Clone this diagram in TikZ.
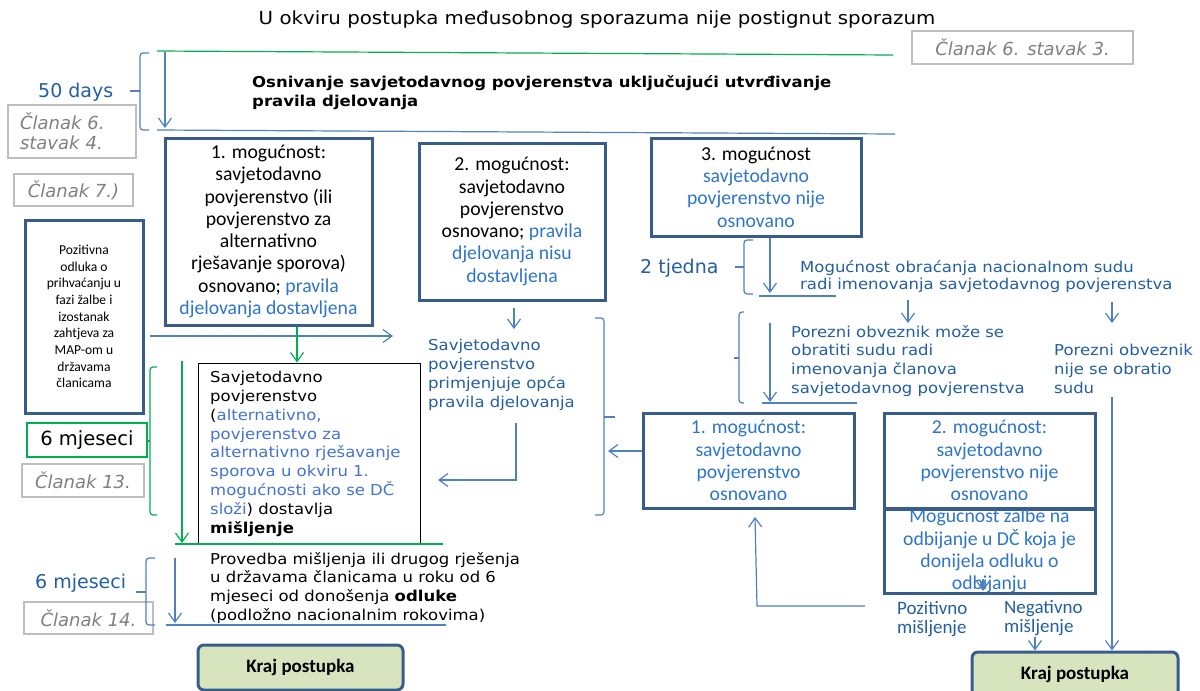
\documentclass[tikz,border=0pt]{standalone}
\usepackage{fontspec}
\setmainfont{DejaVu Sans}
\newfontfamily\verd{DejaVu Sans}[FakeStretch=1.1]
\newfontfamily\calibri{Carlito}
\usetikzlibrary{arrows.meta}

\definecolor{dkblue}{RGB}{35,95,160}
\definecolor{cblue}{RGB}{46,117,200}
\definecolor{mblue}{RGB}{68,114,210}
\definecolor{lnblue}{RGB}{79,129,189}
\definecolor{boxblue}{RGB}{56,93,138}
\definecolor{tlgreen}{RGB}{0,176,80}
\definecolor{refgray}{RGB}{128,128,128}
\definecolor{refline}{RGB}{190,190,190}
\definecolor{krajfill}{RGB}{215,228,189}

\newcommand{\setfs}[2]{\fontsize{#1}{#2}\selectfont}

\begin{document}
\begin{tikzpicture}[x=1pt,y=-1pt,
  thickbox/.style={draw=boxblue, line width=3pt, inner sep=0pt, align=center,
    font=\calibri\setfs{19.7}{22.3}},
  refbox/.style={draw=refline, line width=1.2pt, inner sep=0pt, text=refgray,
    font=\itshape\setfs{18}{20}},
  krajbox/.style={draw=boxblue, line width=3pt, fill=krajfill, rounded corners=6pt,
    inner sep=0pt, font=\calibri\bfseries\setfs{19}{21}},
  vtext/.style={inner sep=0pt, align=left, text=dkblue, font=\verd\setfs{15}{19}},
  conn/.style={draw=lnblue, line width=1.2pt},
  arr/.style={conn, -{Straight Barb[length=9pt,width=13pt]}},
  gconn/.style={draw=tlgreen, line width=1.2pt},
  garr/.style={gconn, -{Straight Barb[length=9pt,width=13pt]}},
  brc/.style={conn, rounded corners=3pt},
  gbrc/.style={gconn, rounded corners=3pt}]
\useasboundingbox (0,0) rectangle (1200,691);

% ---------- heading and top time band ----------
\node[anchor=base, inner sep=0pt, font=\verd\setfs{18}{22}] (title) at (597,24)
  {U okviru postupka međusobnog sporazuma nije postignut sporazum};
\node[refbox, minimum width=221, minimum height=33] (cl63) at (1022.5,47.5) {Članak 6. stavak 3.};

\draw[gconn] (157,51) -- (893,55);
\draw[conn] (157,130) -- (895,134);

\node[anchor=north west, inner sep=0pt, align=left, font=\verd\bfseries\setfs{15}{19.5}] (osn) at (252,75)
  {Osnivanje savjetodavnog povjerenstva uključujući utvrđivanje\\pravila djelovanja};

\node[anchor=base west, inner sep=0pt, text=dkblue, font=\setfs{19}{22}] (days) at (38,97) {50 days};
\draw[brc] (149,53) -- (140,53) -- (140,130) -- (149,130);
\draw[brc] (140,91) -- (130,91);
\draw[arr] (165,52) -- (165,128);

\node[refbox, minimum width=128, minimum height=53, align=left, text width=104] (cl64) at (72,131.5)
  {Članak 6.\\stavak 4.};
\node[refbox, minimum width=119, minimum height=32] (cl7) at (73.5,190) {Članak 7.)};

% ---------- three options ----------
\node[thickbox, minimum width=207, minimum height=187] (opt1) at (268.5,231.5)
  {1. mogućnost:\\savjetodavno\\povjerenstvo (ili\\povjerenstvo za\\alternativno\\rješavanje sporova)\\
   osnovano; \textcolor{cblue}{pravila}\\\textcolor{cblue}{djelovanja dostavljena}};
\node[thickbox, minimum width=186, minimum height=157] (opt2) at (512,221.5)
  {2. mogućnost:\\savjetodavno\\povjerenstvo\\osnovano; \textcolor{cblue}{pravila}\\
   \textcolor{cblue}{djelovanja nisu}\\\textcolor{cblue}{dostavljena}};
\node[thickbox, minimum width=210, minimum height=98] (opt3) at (756,187)
  {3. mogućnost\\\textcolor{cblue}{savjetodavno}\\\textcolor{cblue}{povjerenstvo nije}\\\textcolor{cblue}{osnovano}};

\node[thickbox, minimum width=118, minimum height=193, font=\calibri\setfs{13.6}{16.7}] (poz) at (84,316.5)
  {Pozitivna\\odluka o\\prihvaćanju u\\fazi žalbe i\\izostanak\\zahtjeva za\\MAP-om u\\državama\\članicama};
\coordinate (pozend) at (393,336);
\draw[arr] (poz.east |- pozend) ++(5,0) -- (pozend);

% ---------- option 1: opinion of the committee ----------
\node[draw=black, line width=1pt, minimum width=222, minimum height=181, inner sep=0pt] (savbox) at (309,453.5) {};
\node[anchor=north west, inner sep=0pt, align=left, font=\verd\setfs{15}{18.8}] (savtxt) at (210,371)
  {Savjetodavno\\povjerenstvo\\(\textcolor{mblue}{alternativno,}\\\textcolor{mblue}{povjerenstvo za}\\
   \textcolor{mblue}{alternativno rješavanje}\\\textcolor{mblue}{sporova u okviru 1.}\\
   \textcolor{mblue}{mogućnosti ako se DČ}\\\textcolor{mblue}{složi}) dostavlja\\\textbf{mišljenje}};
\coordinate (g1) at (297,0);
\draw[garr] (opt1.south -| g1) -- (savbox.north -| g1);

\node[draw=tlgreen, line width=1.2pt, minimum width=120, minimum height=34, inner sep=0pt,
  font=\setfs{19.5}{21}] (six1) at (87,440) {6 mjeseci};
\node[refbox, minimum width=122, minimum height=33] (cl13) at (83,480.5) {Članak 13.};
\draw[gbrc] (157,367) -- (150,367) -- (150,515) -- (157,515);
\draw[gconn] (150,441) -- (six1.east |- 0,441);
\draw[garr] (182,361) -- (182,543);
\draw[gconn] (175,544) -- (443,544);

% ---------- implementation ----------
\node[anchor=north west, inner sep=0pt, align=left, font=\verd\setfs{15}{18.7}] (provedba) at (210,552)
  {Provedba mišljenja ili drugog rješenja\\u državama članicama u roku od 6\\
   mjeseci od donošenja \textbf{odluke}\\(podložno nacionalnim rokovima)};
\node[anchor=base west, inner sep=0pt, text=dkblue, font=\setfs{19}{22}] (six2) at (35,588) {6 mjeseci};
\node[refbox, minimum width=129, minimum height=32] (cl14) at (88.5,618) {Članak 14.};
\draw[brc] (155,558) -- (146,558) -- (146,625) -- (155,625);
\draw[brc] (146,592) -- (136,592);
\draw[arr] (175,558) -- (175,623);
\draw[conn] (166,625) -- (446,625);

\node[krajbox, minimum width=205, minimum height=45] (kraj1) at (300.5,667.5) {Kraj postupka};

% ---------- option 2: general rules ----------
\node[vtext, anchor=north west] (prim) at (428,339)
  {Savjetodavno\\povjerenstvo\\primjenjuje opća\\pravila djelovanja};
\draw[arr] (opt2.south |- 0,308) ++(2,0) -- ++(0,21);
\coordinate (elbow) at (438,480);
\draw[arr] (516,423) -- (516,480) -- (elbow);
\draw[brc] (595,318) -- (604,318) -- (604,515) -- (595,515);
\draw[brc] (604,417) -- (615,417);

% ---------- option 3: national court ----------
\node[anchor=base west, inner sep=0pt, text=dkblue, font=\setfs{19}{22}] (tjedna) at (640,273) {2 tjedna};
\draw[brc] (753,240) -- (744,240) -- (744,294) -- (753,294);
\draw[brc] (744,267) -- (735,267);
\draw[arr] (770,238) -- (770,293);
\draw[conn] (759,296) -- (836,296);
\node[vtext, anchor=north west, font=\verd\setfs{15}{17.5}] (mog) at (800,260)
  {Mogućnost obraćanja nacionalnom sudu\\radi imenovanja savjetodavnog povjerenstva};
\draw[arr] (908,300) -- (908,323);
\draw[arr] (1112,302) -- (1112,323);

\draw[brc] (744,312) -- (739,312) -- (739,403) -- (744,403);
\draw[brc] (739,358) -- (734,358);
\draw[arr] (770,323) -- (770,402);
\draw[conn] (762,403) -- (857,403);
\node[vtext, anchor=north west, font=\verd\setfs{15}{18.7}] (por1) at (791,325)
  {Porezni obveznik može se\\obratiti sudu radi\\imenovanja članova\\savjetodavnog povjerenstva};
\node[vtext, anchor=north west, font=\verd\setfs{15}{18.7}] (por2) at (1054,344)
  {Porezni obveznik\\nije se obratio\\sudu};

\node[thickbox, minimum width=211, minimum height=84, text=cblue] (b3) at (989.5,551)
  {Mogućnost žalbe na\\odbijanje u DČ koja je\\donijela odluku o\\odbijanju};
\node[thickbox, minimum width=211, minimum height=95, text=cblue] (b1) at (748.5,460.5)
  {1. mogućnost:\\savjetodavno\\povjerenstvo\\osnovano};
\node[thickbox, minimum width=211, minimum height=95, text=cblue] (b2) at (989.5,460.5)
  {2. mogućnost:\\savjetodavno\\povjerenstvo nije\\osnovano};
\draw[arr] ([yshift=9.5pt]b1.west) -- (608,451);
\draw[arr] (983,579) -- (983,591);

\node[anchor=north west, inner sep=0pt, align=left, text=dkblue, font=\calibri\setfs{19}{19}] (pozm) at (897,601)
  {Pozitivno\\mišljenje};
\node[anchor=north west, inner sep=0pt, align=left, text=dkblue, font=\calibri\setfs{19}{19}] (negm) at (1004,600)
  {Negativno\\mišljenje};
\coordinate (upend) at (755,517);
\draw[arr] (865,606) -- (757,606) -- (upend);

\node[krajbox, minimum width=206, minimum height=45] (kraj2) at (1075,674.5) {Kraj postupka};
\coordinate (negx) at (1035,0);
\coordinate (porx) at (1112,0);
\draw[arr] (1035,637) -- (kraj2.north -| negx);
\draw[arr] (1112,397) -- (kraj2.north -| porx);
\end{tikzpicture}
\end{document}
